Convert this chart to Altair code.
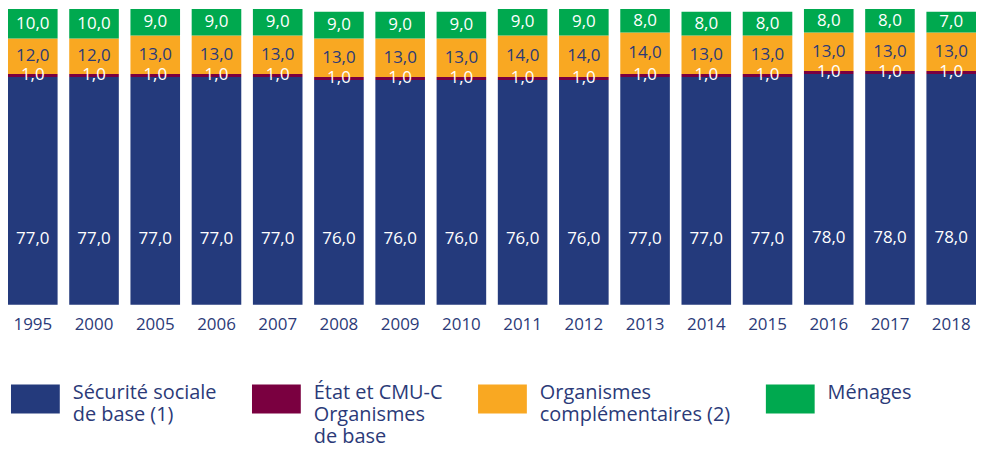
import json
import altair as alt
import pandas as pd

years = ["1995", "2000", "2005", "2006", "2007", "2008", "2009", "2010",
         "2011", "2012", "2013", "2014", "2015", "2016", "2017", "2018"]
secu = [77, 77, 77, 77, 77, 76, 76, 76, 76, 76, 77, 77, 77, 78, 78, 78]
etat = [1, 1, 1, 1, 1, 1, 1, 1, 1, 1, 1, 1, 1, 1, 1, 1]
compl = [12, 12, 13, 13, 13, 13, 13, 13, 14, 14, 14, 13, 13, 13, 13, 13]
menages = [10, 10, 9, 9, 9, 9, 9, 9, 9, 9, 8, 8, 8, 8, 8, 7]

series = ["Sécurité sociale de base (1)",
          "État et CMU-C Organismes de base",
          "Organismes complémentaires (2)",
          "Ménages"]
colors = ["#243a7c", "#7a0040", "#f9a822", "#00a94f"]
text_colors = ["#ffffff", "#ffffff", "#2b3a78", "#ffffff"]
label_frac = [0.29, 0.5, 0.5, 0.5]

# legend label lines (all padded to 3 lines so that entries align)
legend_lines = {
    series[0]: ["Sécurité sociale", "de base (1)", ""],
    series[1]: ["État et CMU-C", "Organismes", "de base"],
    series[2]: ["Organismes", "complémentaires (2)", ""],
    series[3]: ["Ménages", "", ""],
}
label_expr = "".join(
    f"datum.label == {json.dumps(k)} ? {json.dumps(v)} : " for k, v in legend_lines.items()
) + "datum.label"

rows = []
for i, y in enumerate(years):
    for k, vals in enumerate([secu, etat, compl, menages]):
        v = vals[i]
        rows.append({"year": y, "serie": series[k], "order": k, "value": v,
                     "label": f"{v:.1f}".replace(".", ","),
                     "tcolor": text_colors[k], "frac": label_frac[k]})
df = pd.DataFrame(rows)

FONT = "Open Sans"
DARK = "#2b3a78"

base = alt.Chart(df).transform_stack(
    stack="value", as_=["y0", "y1"], groupby=["year"],
    sort=[alt.SortField("order", order="ascending")]
).transform_calculate(mid="datum.y0 + datum.frac * (datum.y1 - datum.y0)")

x = alt.X("year:N", sort=years, title=None,
          scale=alt.Scale(paddingInner=0.19, paddingOuter=0),
          axis=alt.Axis(domain=False, ticks=False, labelAngle=0, labelFont=FONT,
                        labelFontSize=17, labelColor=DARK, labelPadding=12))

bars = base.mark_bar().encode(
    x=x,
    y=alt.Y("y0:Q", scale=alt.Scale(domain=[0, 100], nice=False), axis=None),
    y2="y1:Q",
    color=alt.Color("serie:N", sort=series,
                    scale=alt.Scale(domain=series, range=colors),
                    legend=alt.Legend(
                        title=None, orient="none", legendX=3, legendY=367,
                        direction="horizontal", columns=4, columnPadding=35,
                        symbolType="M-1,-0.592H1V0.592H-1Z", symbolSize=2401,
                        symbolStrokeWidth=0, symbolOpacity=1,
                        labelFont=FONT, labelFontSize=20, labelColor=DARK,
                        labelLimit=400, labelOffset=13, labelBaseline="alphabetic",
                        labelExpr=label_expr)),
)

texts = base.mark_text(font=FONT, fontSize=17).encode(
    x=alt.X("year:N", sort=years),
    y=alt.Y("mid:Q"),
    text="label:N",
    color=alt.Color("tcolor:N", scale=None),
)

chart = alt.layer(bars, texts).properties(
    width=972, height=297, padding=0
).configure_view(stroke=None).configure_text(lineHeight=23)

chart.save("out.html", embed_options={"renderer": "svg", "actions": False})
